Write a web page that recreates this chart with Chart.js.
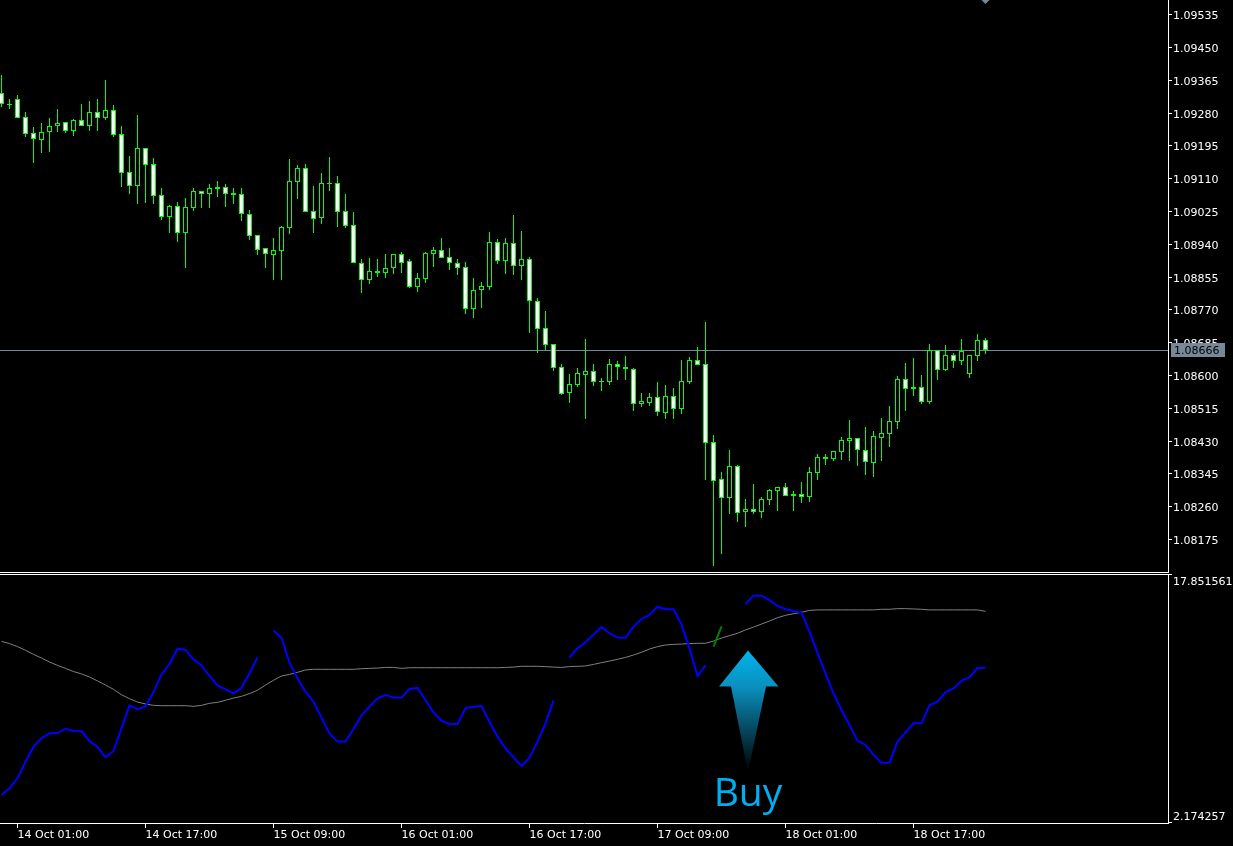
<!DOCTYPE html>
<html><head><meta charset="utf-8">
<style>
html,body{margin:0;padding:0;background:#000;overflow:hidden;width:1233px;height:846px}
canvas{position:absolute;left:0;display:block}
#main{top:0}#ind{top:574px}
</style>
<script src="https://cdn.jsdelivr.net/npm/chart.js@4"></script>
</head><body>
<canvas id="main" width="1233" height="573"></canvas>
<canvas id="ind" width="1233" height="272"></canvas>
<script>
const opens=[1.09330,1.09301,1.09314,1.09268,1.09226,1.09210,1.09231,1.09244,1.09255,1.09233,1.09260,1.09246,1.09281,1.09267,1.09286,1.09224,1.09125,1.09091,1.09187,1.09146,1.09066,1.09010,1.09037,1.08969,1.09034,1.09076,1.09070,1.09083,1.09086,1.09067,1.09068,1.09016,1.08962,1.08928,1.08912,1.08922,1.08982,1.09101,1.09136,1.09024,1.09008,1.09095,1.09097,1.09024,1.08988,1.08889,1.08847,1.08865,1.08865,1.08876,1.08913,1.08895,1.08829,1.08850,1.08914,1.08923,1.08905,1.08889,1.08879,1.08772,1.08819,1.08829,1.08944,1.08896,1.08941,1.08883,1.08900,1.08793,1.08721,1.08680,1.08620,1.08554,1.08575,1.08601,1.08610,1.08582,1.08583,1.08628,1.08622,1.08615,1.08526,1.08528,1.08542,1.08502,1.08545,1.08513,1.08583,1.08638,1.08628,1.08426,1.08330,1.08282,1.08363,1.08246,1.08252,1.08246,1.08277,1.08300,1.08311,1.08287,1.08291,1.08285,1.08347,1.08383,1.08383,1.08401,1.08430,1.08438,1.08405,1.08373,1.08438,1.08448,1.08479,1.08589,1.08565,1.08568,1.08531,1.08664,1.08614,1.08651,1.08635,1.08603,1.08650,1.08690];
const closes=[1.09303,1.09299,1.09267,1.09225,1.09212,1.09231,1.09244,1.09252,1.09233,1.09260,1.09246,1.09281,1.09267,1.09286,1.09223,1.09124,1.09091,1.09187,1.09145,1.09065,1.09010,1.09037,1.08969,1.09035,1.09076,1.09070,1.09084,1.09086,1.09070,1.09071,1.09016,1.08961,1.08925,1.08914,1.08923,1.08983,1.09102,1.09136,1.09023,1.09005,1.09097,1.09097,1.09023,1.08987,1.08889,1.08847,1.08869,1.08869,1.08876,1.08913,1.08891,1.08829,1.08851,1.08915,1.08923,1.08904,1.08889,1.08876,1.08772,1.08819,1.08830,1.08944,1.08896,1.08941,1.08883,1.08900,1.08793,1.08720,1.08679,1.08619,1.08552,1.08576,1.08604,1.08610,1.08583,1.08584,1.08628,1.08622,1.08616,1.08526,1.08532,1.08542,1.08505,1.08545,1.08513,1.08584,1.08638,1.08627,1.08425,1.08326,1.08282,1.08363,1.08243,1.08252,1.08246,1.08278,1.08301,1.08311,1.08287,1.08291,1.08285,1.08348,1.08387,1.08387,1.08402,1.08431,1.08438,1.08406,1.08375,1.08441,1.08449,1.08480,1.08589,1.08565,1.08568,1.08531,1.08664,1.08614,1.08651,1.08635,1.08661,1.08651,1.08690,1.08666];
const highs=[1.09377,1.09314,1.09326,1.09282,1.09243,1.09253,1.09266,1.09289,1.09256,1.09263,1.09302,1.09310,1.09315,1.09365,1.09300,1.09245,1.09168,1.09274,1.09187,1.09162,1.09085,1.09041,1.09048,1.09059,1.09085,1.09076,1.09095,1.09103,1.09095,1.09085,1.09085,1.09028,1.08962,1.08928,1.08955,1.08986,1.09160,1.09143,1.09147,1.09090,1.09124,1.09165,1.09116,1.09069,1.09022,1.08900,1.08903,1.08901,1.08914,1.08914,1.08919,1.08900,1.08864,1.08919,1.08932,1.08955,1.08929,1.08900,1.08893,1.08851,1.08841,1.08971,1.08952,1.08955,1.09015,1.08973,1.08906,1.08800,1.08766,1.08680,1.08628,1.08603,1.08618,1.08693,1.08628,1.08592,1.08641,1.08635,1.08649,1.08618,1.08553,1.08553,1.08582,1.08574,1.08566,1.08639,1.08647,1.08673,1.08737,1.08444,1.08349,1.08406,1.08367,1.08279,1.08318,1.08284,1.08305,1.08311,1.08320,1.08299,1.08323,1.08362,1.08395,1.08395,1.08402,1.08439,1.08483,1.08438,1.08465,1.08455,1.08489,1.08520,1.08597,1.08631,1.08644,1.08600,1.08680,1.08664,1.08678,1.08657,1.08693,1.08651,1.08706,1.08696];
const lows=[1.09295,1.09289,1.09267,1.09217,1.09150,1.09176,1.09179,1.09230,1.09227,1.09219,1.09244,1.09233,1.09232,1.09261,1.09218,1.09088,1.09069,1.09043,1.09046,1.09043,1.09002,1.08968,1.08945,1.08877,1.09025,1.09033,1.09033,1.09061,1.09035,1.09043,1.08999,1.08950,1.08911,1.08877,1.08846,1.08846,1.08965,1.09056,1.09023,1.08968,1.08991,1.09077,1.08984,1.08981,1.08889,1.08813,1.08836,1.08854,1.08851,1.08862,1.08864,1.08825,1.08815,1.08838,1.08880,1.08904,1.08872,1.08859,1.08758,1.08748,1.08774,1.08820,1.08888,1.08862,1.08859,1.08846,1.08709,1.08657,1.08665,1.08610,1.08548,1.08527,1.08569,1.08486,1.08571,1.08559,1.08574,1.08587,1.08587,1.08507,1.08517,1.08520,1.08494,1.08486,1.08486,1.08499,1.08577,1.08627,1.08328,1.08105,1.08136,1.08240,1.08219,1.08206,1.08240,1.08229,1.08263,1.08248,1.08287,1.08248,1.08268,1.08271,1.08328,1.08367,1.08377,1.08380,1.08377,1.08364,1.08341,1.08336,1.08377,1.08413,1.08460,1.08507,1.08546,1.08525,1.08525,1.08587,1.08610,1.08618,1.08626,1.08592,1.08636,1.08654];
const blueLine=[3.94,4.36,4.99,6.04,6.98,7.51,7.82,7.84,8.11,7.97,7.95,7.34,6.96,6.31,6.71,8.13,9.58,9.33,9.52,10.40,11.53,12.18,13.15,13.07,12.48,12.10,11.43,10.84,10.59,10.34,10.69,11.60,12.60,null,14.28,13.84,12.27,11.28,10.44,9.81,8.81,7.82,7.30,7.30,8.09,8.95,9.50,10.02,10.25,10.07,10.07,10.61,10.69,9.92,9.14,8.62,8.41,8.41,9.41,9.50,9.54,8.55,7.61,6.88,6.31,5.76,6.29,7.30,8.45,9.88,null,12.60,13.17,13.55,14.05,14.51,14.12,13.86,13.84,14.54,15.02,15.27,15.79,15.63,15.63,14.68,13.17,11.43,12.10,null,null,null,null,15.96,16.49,16.49,16.21,15.84,15.65,15.52,15.42,14.22,12.88,11.60,10.34,9.29,8.34,7.36,7.09,6.46,5.96,5.96,7.30,7.88,8.47,8.45,9.58,9.81,10.42,10.65,11.12,11.35,11.93,11.95];
const greyLine=[13.61,13.47,13.28,13.05,12.79,12.56,12.31,12.10,11.91,11.71,11.56,11.37,11.12,10.86,10.59,10.25,10.00,9.79,9.67,9.58,9.56,9.56,9.56,9.56,9.52,9.58,9.71,9.77,9.90,10.04,10.15,10.32,10.53,10.86,11.16,11.43,11.53,11.66,11.81,11.85,11.85,11.85,11.85,11.85,11.85,11.89,11.91,11.93,11.97,11.97,11.91,11.95,11.95,11.95,11.95,11.95,11.95,11.95,11.95,11.95,11.95,11.95,11.95,11.97,11.99,12.04,12.04,12.04,12.02,11.99,11.97,12.02,12.04,12.06,12.16,12.27,12.37,12.48,12.60,12.75,12.92,13.13,13.28,13.38,13.42,13.44,13.47,13.49,13.49,13.63,13.82,13.97,14.12,14.33,14.51,14.70,14.89,15.10,15.25,15.35,15.44,15.56,15.59,15.59,15.59,15.59,15.59,15.59,15.59,15.59,15.63,15.63,15.67,15.67,15.65,15.63,15.59,15.59,15.59,15.59,15.59,15.59,15.59,15.50];
const greenIndex=[89,90];
const greenValues=[13.28,14.56];
const priceTicks=[1.09535,1.09450,1.09365,1.09280,1.09195,1.09110,1.09025,1.08940,1.08855,1.08770,1.08685,1.08600,1.08515,1.08430,1.08345,1.08260,1.08175];
const currentPrice=1.08666;
const indTickLabels=['17.851561','2.174257'];
const timeTickIndex=[2,18,34,50,66,82,98,114];
const timeLabels=['14 Oct 01:00','14 Oct 17:00','15 Oct 09:00','16 Oct 01:00','16 Oct 17:00','17 Oct 09:00','18 Oct 01:00','18 Oct 17:00'];
const buyLabel='Buy';

const GREEN='#00ff00',WHITE='#ffffff',SLATE='#778899';
const FONT={family:'"DejaVu Sans"',size:11};
const X_MIN=-0.1875,X_MAX=145.8125;
const Y_MIN=1.080869,Y_MAX=1.095718;
const ix=opens.map((_,i)=>i);

function noPad(s){s.paddingLeft=0;s.paddingRight=0;s.paddingTop=0;s.paddingBottom=0;}
const linearX=(extra)=>Object.assign({type:'linear',min:X_MIN,max:X_MAX,offset:false},extra);

const mainPlugin={
  id:'mainDecor',
  beforeDatasetsDraw(c){
    const g=c.ctx,y=Math.round(c.scales.y.getPixelForValue(currentPrice))+0.5;
    g.save();g.strokeStyle=SLATE;g.lineWidth=1;g.beginPath();g.moveTo(0,y);g.lineTo(c.chartArea.right,y);g.stroke();g.restore();
  },
  afterDraw(c){
    const g=c.ctx,a=c.chartArea,y=Math.round(c.scales.y.getPixelForValue(currentPrice));
    g.save();
    g.fillStyle=SLATE;g.fillRect(1171,y-7,54,14);
    g.fillStyle='#000';g.font='11px "DejaVu Sans"';g.textBaseline='middle';g.textAlign='left';
    g.fillText(currentPrice.toFixed(5),1174,y+1);
    g.strokeStyle=WHITE;g.lineWidth=1;g.beginPath();g.moveTo(0,a.bottom-0.5);g.lineTo(a.right,a.bottom-0.5);g.stroke();
    g.restore();
  }
};

new Chart(document.getElementById('main'),{
  type:'bar',
  plugins:[mainPlugin],
  data:{datasets:[
    {type:'line',data:[{x:123,y:Y_MAX}],showLine:false,pointStyle:'rectRot',pointRadius:4,pointBackgroundColor:SLATE,pointBorderWidth:0},
    {data:ix.map(i=>({x:i,y:[opens[i],closes[i]]})),grouped:false,barThickness:5,inflateAmount:0,borderWidth:1,borderColor:GREEN,borderSkipped:false,
     backgroundColor:ix.map(i=>closes[i]<opens[i]?WHITE:'#000000')},
    {data:ix.map(i=>({x:i,y:[lows[i],highs[i]]})),grouped:false,barThickness:1,inflateAmount:0,borderWidth:0,backgroundColor:GREEN}
  ]},
  options:{
    responsive:false,animation:false,devicePixelRatio:1,
    layout:{padding:0,autoPadding:false},
    plugins:{legend:{display:false},tooltip:{enabled:false}},
    scales:{
      x:linearX({display:false,ticks:{display:false},grid:{display:false}}),
      y:{type:'linear',position:'right',min:Y_MIN,max:Y_MAX,
        afterBuildTicks(s){s.ticks=[Y_MIN,...priceTicks.slice().reverse(),Y_MAX].map(v=>({value:v}));},
        afterFit(s){s.width=65;noPad(s);},
        afterUpdate(s){
          if(!s._snapped){const f=s.getPixelForValue;s.getPixelForValue=function(v,i){return Math.round(f.call(s,v,i));};s._snapped=true;}
        },
        border:{color:WHITE,width:1},
        grid:{drawOnChartArea:false,tickLength:4,tickColor:c=>(c.tick&&(c.tick.value===Y_MIN||c.tick.value===Y_MAX))?'rgba(0,0,0,0)':WHITE},
        ticks:{color:WHITE,font:FONT,padding:1,labelOffset:2,autoSkip:false,maxRotation:0,callback:v=>(v===Y_MIN||v===Y_MAX)?'':Number(v).toFixed(5)}
      }
    }
  }
});

const indPlugin={
  id:'indDecor',
  afterDraw(c){
    const g=c.ctx,a=c.chartArea;
    g.save();
    g.strokeStyle=WHITE;g.lineWidth=1;g.beginPath();g.moveTo(0,a.top+0.5);g.lineTo(a.right,a.top+0.5);g.stroke();
    const grad=g.createLinearGradient(0,76.5,0,198);
    grad.addColorStop(0,'#00b4ec');grad.addColorStop(0.3,'#0a8fbe');grad.addColorStop(1,'#000000');
    g.fillStyle=grad;g.beginPath();
    g.moveTo(748,76.5);g.lineTo(778.5,112.5);g.lineTo(766,112.5);g.lineTo(748,198);g.lineTo(731,112.5);g.lineTo(719,112.5);g.closePath();g.fill();
    g.fillStyle='#00aeef';g.font='39px "Open Sans"';g.textAlign='center';g.textBaseline='alphabetic';
    g.fillText(buyLabel,748,232);
    g.restore();
  }
};

const Y_TOP=17.851561,Y_BOT=2.174257;
const indTicks=[2.237,2.615,17.379,17.79];
new Chart(document.getElementById('ind'),{
  type:'line',
  plugins:[indPlugin],
  data:{datasets:[
    {data:ix.map(i=>({x:i,y:blueLine[i]})),borderColor:'#0000ff',borderWidth:2,pointRadius:0,spanGaps:false,tension:0},
    {data:greenIndex.map((x,k)=>({x,y:greenValues[k]})),borderColor:'#008000',borderWidth:2,pointRadius:0,tension:0},
    {data:ix.map(i=>({x:i,y:greyLine[i]})),borderColor:'#808080',borderWidth:1,pointRadius:0,tension:0}
  ]},
  options:{
    responsive:false,animation:false,devicePixelRatio:1,
    layout:{padding:0,autoPadding:false},
    plugins:{legend:{display:false},tooltip:{enabled:false}},
    scales:{
      x:linearX({position:'bottom',
        afterBuildTicks(s){s.ticks=timeTickIndex.map(v=>({value:v}));},
        afterFit(s){s.height=23;noPad(s);},
        border:{color:WHITE,width:1},
        grid:{drawOnChartArea:false,tickColor:WHITE,tickLength:5},
        ticks:{color:WHITE,font:FONT,align:'start',padding:1,autoSkip:false,maxRotation:0,minRotation:0,
          callback:(v)=>timeLabels[timeTickIndex.indexOf(v)]}
      }),
      y:{type:'linear',position:'right',min:Y_BOT,max:Y_TOP,
        afterBuildTicks(s){s.ticks=indTicks.map(v=>({value:v}));},
        afterFit(s){s.width=65;noPad(s);},
        border:{color:WHITE,width:1},
        grid:{drawOnChartArea:false,tickLength:4,tickColor:c=>(c.tick&&(c.tick.value===indTicks[0]||c.tick.value===indTicks[3]))?WHITE:'rgba(0,0,0,0)'},
        ticks:{color:WHITE,font:FONT,padding:1,labelOffset:1,autoSkip:false,maxRotation:0,
          callback:(v)=>v===indTicks[1]?indTickLabels[1]:v===indTicks[2]?indTickLabels[0]:''}
      }
    }
  }
});
</script>
</body></html>
